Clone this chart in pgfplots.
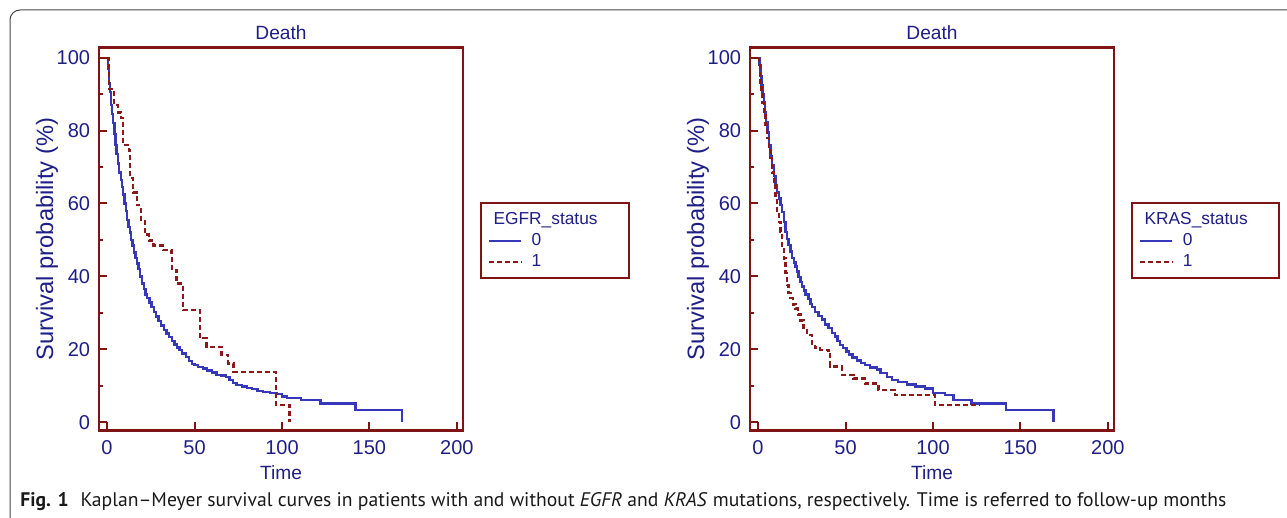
\documentclass[border=0pt]{standalone}
\usepackage{pgfplots}
\pgfplotsset{compat=1.18}
\usepackage{fontspec}
\setmainfont{Liberation Sans}
\newfontfamily\capfont{PT Sans}

\definecolor{axisred}{RGB}{128,20,20}
\definecolor{labelblue}{RGB}{30,30,135}
\definecolor{curveblue}{RGB}{55,55,185}
\definecolor{curvered}{RGB}{140,25,25}
\definecolor{framegray}{RGB}{70,70,70}

% Kaplan-Meyer estimates (time in months, survival in %)
\pgfplotstableread{
t s
0 100
0.7 97
1.2 93
1.7 90.5
2.3 87
2.8 84.5
3.5 82
4.2 79
4.8 76
5.5 73.5
6.2 71
7 68.5
7.8 66.5
8.5 64.5
9.3 62.5
10 60
10.8 58
11.5 55.5
12.3 53.5
13 52
13.8 50
14.6 48.5
15.5 46.5
16.3 45
17.2 43.5
18 42
19 40
20 38
21 36.5
22 35
23 34
24.2 32.8
25.5 31.5
26.8 30.2
28 29
29.5 27.8
31 26.5
32.5 25.3
34 24.3
35.5 23.3
37 22.3
38.5 21.3
40 20.5
41.5 19.8
43 18.8
45 17.8
47 16.8
48.5 16
50 15.6
52 15.2
55 14.7
57 14.2
60 13.6
62.5 13
65 12.8
68 12.4
70 11.5
72 10.8
74 10.2
77 9.8
80 9.4
83 9
86 8.6
89 8.3
93 8.0
97 7.7
100 7
103 6.6
111 6.0
122 5.1
142 3.3
168.6 0
}\egfrzero

\pgfplotstableread{
t s
0 100
1.0 91.5
3.8 87
6.2 85
7.8 83.5
9.2 76
12.5 74.5
13.0 67
14.8 63
17.0 59.5
19.5 55.5
21.6 51.5
24.0 49.8
26.5 48.5
32.0 47.2
36.9 45.8
37.2 41.7
39.7 38.0
43.5 30.7
53.1 23.0
56.9 20.7
65.5 18.4
69.3 16.1
72.2 13.8
96.6 4.7
104.3 0
}\egfrone

\pgfplotstableread{
t s
0 100
0.8 98
1.4 95
2.0 92.5
2.6 90
3.3 87.9
4.0 85
4.7 82.4
5.4 79.5
6.2 76
7.1 73
8.1 70.5
9.0 67.5
10.0 65
10.9 63
11.8 61.4
12.8 59.5
13.8 57.7
14.7 55
15.7 52.2
16.6 50.3
17.5 48.6
18.5 46.8
19.5 45
20.5 43.8
21.4 42.7
22.3 41.3
23.2 39.9
24.2 38.5
25.2 37.2
26.2 36.1
27.2 35
28.9 33.8
30.0 32.4
30.9 31.5
32.7 30.3
34.5 29.2
36.5 28.2
38.4 26.8
40.3 25.8
42.3 24.5
44 23.5
45.5 22.3
47 21.1
48.5 20.3
50.5 19.4
52 18.6
54 17.7
56.5 16.9
59 16.2
61.2 15.6
64 15
67.9 14.4
70 13.5
73.6 12.3
76.4 11.6
80 11
85 10.3
90 9.8
95.4 9.2
100.1 7.9
106.8 7.4
111.8 6.1
122 5.1
141.9 3.3
169 0
}\oncozero

\pgfplotstableread{
t s
0 100
0.5 98
1.0 95
1.4 92.5
2.0 90
2.6 87.5
3.3 85.2
4.2 81.5
5.2 77.9
6.1 75
7.1 72.4
8.0 68.5
9.0 65
10.0 61.5
10.9 57.7
11.8 55
12.8 52.2
13.8 48.5
14.7 44.9
15.6 41
16.6 37.6
17.5 35.5
18.5 34.0
20.0 32.3
21.4 31.2
22.8 29.5
24.2 27.9
26 25.8
28.0 23.9
30.9 21.6
32.7 20.5
35.6 19.8
40.3 18.9
41.3 15.3
48.0 12.9
54.6 12.0
61.2 10.6
68.8 8.9
78.3 7.4
101.1 4.7
126.7 4.7
}\oncoone

\pgfplotsset{
  km/.style={
    scale only axis, width=218.4pt, height=229.8pt,
    xmin=-4.6, xmax=203.5, ymin=-2.3, ymax=102.8,
    xtick={0,50,...,200}, ytick={0,20,...,100}, minor ytick={10,30,...,90},
    tick align=inside, xtick pos=bottom, ytick pos=left,
    major tick length=4.8pt, minor tick length=2.4pt,
    every tick/.style={axisred, line width=1.2pt},
    axis line style={axisred, line width=1.5pt},
    /pgf/number format/assume math mode=true,
    tick label style={text=labelblue, font=\fontsize{12}{14}\selectfont},
    xticklabel style={yshift=-2.5pt},
    yticklabel style={xshift=-1.8pt},
    label style={text=labelblue},
    every axis title shift=0pt,
    title style={text=labelblue, at={(0.5,1.038)}, anchor=center, yshift=0pt,
      font=\fontsize{11.5}{13}\selectfont},
    title=Death,
    xlabel=Time,
    ylabel={Survival probability (\%)},
    xlabel style={at={(axis description cs:0.5,-0.111)}, anchor=center,
      font=\fontsize{11.5}{13}\selectfont},
    ylabel style={at={(axis description cs:-0.143,0.5)}, anchor=center,
      font=\fontsize{14.2}{16}\selectfont},
    legend cell align=left,
    legend image code/.code={\draw[##1] (0pt,0pt) -- (19.5pt,0pt);},
    legend style={at={(1.0467,0.5953)}, anchor=north west, draw=axisred,
      line width=1.2pt, fill=white, text=labelblue, inner xsep=4pt,
      inner ysep=3.6pt, row sep=0pt, column sep=4pt,
      font=\fontsize{10.4}{12}\selectfont,
      nodes={inner sep=1.55pt, text height=7.5pt, text depth=2pt, text=labelblue}},
  },
  zero/.style={const plot, curveblue, line width=1.4pt},
  one/.style={const plot, curvered, line width=1.4pt, dash pattern=on 3pt off 1.8pt},
}

\begin{document}
\begin{tikzpicture}
\useasboundingbox (0,0) rectangle (772.2pt,310.8pt);
\draw[framegray, line width=0.6pt, rounded corners=6pt] (780pt,304.8pt) -- (6pt,304.8pt) -- (6pt,-2pt);

\begin{axis}[km, at={(59.4pt,52.5pt)}, anchor=south west]
\addlegendimage{empty legend}
\addlegendentry{\hspace{-22.9pt}EGFR\_status\kern 13pt}
\addplot[zero] table[x=t, y=s] {\egfrzero};
\addlegendentry{0}
\addplot[one] table[x=t, y=s] {\egfrone};
\addlegendentry{1}
\end{axis}

\begin{axis}[km, at={(450pt,52.5pt)}, anchor=south west]
\addlegendimage{empty legend}
\addlegendentry{\hspace{-22.9pt}KRAS\_status\kern 13pt}
\addplot[zero] table[x=t, y=s] {\oncozero};
\addlegendentry{0}
\addplot[one] table[x=t, y=s] {\oncoone};
\addlegendentry{1}
\end{axis}

\node[anchor=base west, inner sep=0pt, text=black!90] at (12pt,6.6pt)
  {\resizebox{723.6pt}{!}{\capfont\textbf{Fig. 1}\hspace{0.6em}Kaplan–Meyer survival curves in patients with and without \textit{EGFR} and \textit{KRAS} mutations, respectively. Time is referred to follow-up months}};
\end{tikzpicture}
\end{document}
